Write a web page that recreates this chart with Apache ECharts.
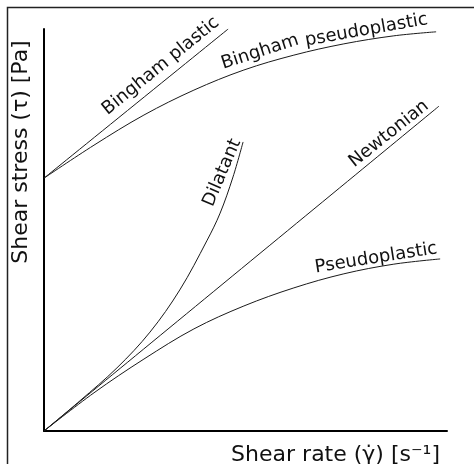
<!DOCTYPE html>
<html>
<head>
<meta charset="utf-8">
<title>Rheology of time independent fluids</title>
<script src="https://cdn.jsdelivr.net/npm/echarts@6/dist/echarts.min.js"></script>
<style>
  html, body { margin: 0; padding: 0; background: #fff; }
  #chart { width: 474px; height: 464px; }
</style>
</head>
<body>
<div id="chart"></div>
<script>
// shear rate / shear stress (arbitrary units, 0..10)
const binghamPlasticX = [0, 4.57]
const binghamPlasticY = [6.29, 10.0]

const binghamPseudoX = [0, 1.24, 2.48, 3.72, 4.96, 6.20, 7.44, 8.68, 9.73]
const binghamPseudoY = [6.29, 7.11, 7.86, 8.48, 8.98, 9.35, 9.63, 9.83, 9.93]

const dilatantX = [0, 0.89, 1.81, 2.63, 3.37, 4.04, 4.37, 4.69, 4.94]
const dilatantY = [0, 0.75, 1.57, 2.46, 3.51, 4.73, 5.42, 6.32, 7.19]

const newtonianX = [0, 9.80]
const newtonianY = [0, 8.08]

const pseudoX = [0, 1.24, 2.48, 3.72, 4.96, 6.20, 7.44, 8.68, 9.83]
const pseudoY = [0, 0.95, 1.79, 2.54, 3.11, 3.56, 3.91, 4.15, 4.28]

// curve names, where they sit (data coords) and their tilt in degrees
const curveLabels = [
  {text: 'Bingham plastic', at: [2.90, 9.08], angle: 39},
  {text: 'Bingham', at: [5.36, 9.43], angle: 18},
  {text: 'pseudoplastic', at: [8.00, 9.97], angle: 10},
  {text: 'Dilatant', at: [4.42, 6.42], angle: 67},
  {text: 'Newtonian', at: [8.56, 7.39], angle: 38.5},
  {text: 'Pseudoplastic', at: [8.24, 4.30], angle: 9}
]

const xTitle = 'Shear rate (γ̇) [s⁻¹]'
const yTitle = 'Shear stress (τ) [Pa]'

const FONT = '"DejaVu Sans", Verdana, sans-serif'

const zip = (xs, ys) => xs.map((x, i) => [x, ys[i]])

const curve = (name, xs, ys) => ({
  name: name,
  type: 'line',
  data: zip(xs, ys),
  smooth: 0.35,
  showSymbol: false,
  silent: true,
  lineStyle: {color: '#1a1a1a', width: 1}
})

const hiddenAxis = {
  type: 'value',
  min: 0,
  max: 10,
  axisLine: {show: true, onZero: false, lineStyle: {color: '#000', width: 2}},
  axisTick: {show: false},
  axisLabel: {show: false},
  splitLine: {show: false}
}

const chart = echarts.init(document.getElementById('chart'))

const option = {
  animation: false,
  backgroundColor: '#fff',
  grid: {left: 44, top: 29, width: 403, height: 402},
  xAxis: hiddenAxis,
  yAxis: hiddenAxis,
  series: [
    curve('Bingham plastic', binghamPlasticX, binghamPlasticY),
    curve('Bingham pseudoplastic', binghamPseudoX, binghamPseudoY),
    curve('Dilatant', dilatantX, dilatantY),
    curve('Newtonian', newtonianX, newtonianY),
    curve('Pseudoplastic', pseudoX, pseudoY)
  ]
}
chart.setOption(option)

// labels + frame, placed through the chart's own coordinate system
const graphics = [
  {
    type: 'polyline',
    shape: {points: [[7.5, 464], [7.5, 7.5], [474, 7.5]]},
    style: {stroke: '#222', lineWidth: 1.5, fill: null}
  },
  {
    type: 'text',
    x: 21,
    y: 152,
    rotation: Math.PI / 2,
    style: {text: yTitle, fontFamily: FONT, fontSize: 22, fill: '#111', align: 'center', verticalAlign: 'middle'}
  },
  {
    type: 'text',
    x: 440,
    y: 455,
    style: {text: xTitle, fontFamily: FONT, fontSize: 22, fill: '#111', align: 'right', verticalAlign: 'middle'}
  }
]
curveLabels.forEach((l) => {
  const p = chart.convertToPixel({gridIndex: 0}, l.at)
  graphics.push({
    type: 'text',
    x: p[0],
    y: p[1],
    rotation: l.angle * Math.PI / 180,
    style: {text: l.text, fontFamily: FONT, fontSize: 18, fill: '#111', align: 'center', verticalAlign: 'middle'}
  })
})
chart.setOption({graphic: graphics})
</script>
</body>
</html>
